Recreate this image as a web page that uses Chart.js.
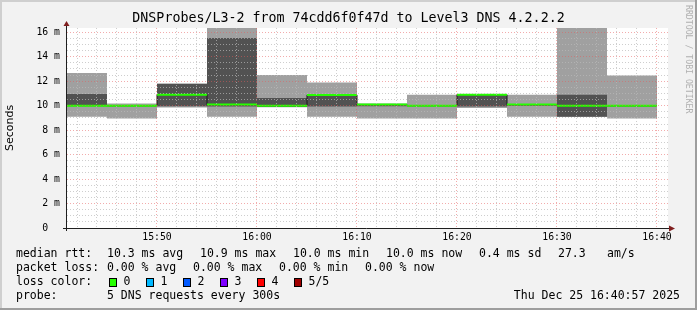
<!DOCTYPE html>
<html>
<head>
<meta charset="utf-8">
<script src="https://cdn.jsdelivr.net/npm/chart.js@4.4.1/dist/chart.umd.min.js"></script>
<style>
  html, body { margin: 0; padding: 0; background: #f2f2f2; }
  canvas { display: block; }
</style>
</head>
<body>
<canvas id="myChart" width="697" height="310"></canvas>
<script>
// 5 minute slots (last one ends at 16:40)
const slotStart = ["15:41", "15:45", "15:50", "15:55", "16:00", "16:05", "16:10", "16:15", "16:20", "16:25", "16:30", "16:35"];
const slotEnd = "16:40";

// values in ms
const rttMax = [12.68, 10.17, 11.8, 16.4, 12.5, 11.9, 10.17, 10.9, 10.93, 10.9, 16.4, 12.46];
const smokeHi = [10.95, 10.05, 11.8, 15.53, 10.63, 10.88, 10.12, 10.02, 10.93, 10.12, 10.9, 10.05];
const rttMedian = [10.0, 10.0, 10.9, 10.09, 10.0, 10.88, 10.09, 10.0, 10.9, 10.09, 10.0, 10.0];
const smokeLo = [9.97, 9.95, 9.96, 9.93, 9.9, 9.93, 9.96, 9.95, 9.93, 10.0, 9.1, 9.93];
const rttMin = [9.1, 8.95, 9.85, 9.1, 9.88, 9.1, 8.95, 8.95, 9.8, 9.1, 9.1, 8.95];

const yLabelValues = [0, 2, 4, 6, 8, 10, 12, 14, 16];
const yLabels = ["0  ", "2 m", "4 m", "6 m", "8 m", "10 m", "12 m", "14 m", "16 m"];
const xTickLabels = ["15:50", "16:00", "16:10", "16:20", "16:30", "16:40"];

const medianStats = ["10.3 ms avg", "10.9 ms max", "10.0 ms min", "10.0 ms now", "0.4 ms sd", "27.3", "am/s"];
const lossStats = ["0.00 % avg", "0.00 % max", "0.00 % min", "0.00 % now"];
const lossLabels = ["0", "1", "2", "3", "4", "5/5"];
const lossColors = ["#26ff00", "#00b8ff", "#0059ff", "#7e00ff", "#ff0000", "#a00000"];

const toMin = (s) => {
  const [h, m] = s.split(":").map(Number);
  return h * 60 + m;
};
const xLabelMinutes = xTickLabels.map(toMin);

const stepPoints = (vals) => {
  const pts = slotStart.map((s, i) => ({ x: toMin(s), y: vals[i] }));
  pts.push({ x: toMin(slotEnd), y: vals[vals.length - 1] });
  return pts;
};

// green median: one flat piece per slot, broken between
const medianPieces = [];
slotStart.forEach((s, i) => {
  const end = i + 1 < slotStart.length ? slotStart[i + 1] : slotEnd;
  medianPieces.push({ x: toMin(s), y: rttMedian[i] });
  medianPieces.push({ x: toMin(end), y: rttMedian[i] });
  medianPieces.push({ x: toMin(end), y: null });
});

const MONO = "'DejaVu Sans Mono', monospace";

const frame = {
  id: "frame",
  beforeDraw(chart) {
    const { ctx, chartArea: a } = chart;
    ctx.save();
    ctx.fillStyle = "#f2f2f2";
    ctx.fillRect(0, 0, chart.width, chart.height);
    ctx.fillStyle = "#ffffff";
    ctx.fillRect(a.left, a.top, a.right - a.left, a.bottom - a.top);
    ctx.restore();
  },
  afterDraw(chart) {
    const { ctx, chartArea: a } = chart;
    ctx.save();
    // axes
    ctx.strokeStyle = "#1f1f1f";
    ctx.lineWidth = 1;
    ctx.beginPath();
    ctx.moveTo(a.left - 0.5, a.bottom + 3);
    ctx.lineTo(a.left - 0.5, a.top - 2);
    ctx.moveTo(a.left - 4, a.bottom + 0.5);
    ctx.lineTo(a.right + 2, a.bottom + 0.5);
    ctx.stroke();
    ctx.fillStyle = "#801f1f";
    ctx.beginPath();
    ctx.moveTo(a.left - 0.5, a.top - 7);
    ctx.lineTo(a.left - 3.5, a.top - 2);
    ctx.lineTo(a.left + 2.5, a.top - 2);
    ctx.closePath();
    ctx.fill();
    ctx.beginPath();
    ctx.moveTo(a.right + 7, a.bottom + 0.5);
    ctx.lineTo(a.right + 1, a.bottom - 2.5);
    ctx.lineTo(a.right + 1, a.bottom + 3.5);
    ctx.closePath();
    ctx.fill();

    // legend
    ctx.fillStyle = "#000";
    ctx.font = "11.5px " + MONO;
    ctx.textBaseline = "middle";
    ctx.textAlign = "left";
    const r1 = 254.5, r2 = 268.5, r3 = 282.5, r4 = 296.5;
    ctx.fillText("median rtt:", 16, r1);
    [107, 200, 293, 386, 479, 558, 607].forEach((x, i) => ctx.fillText(medianStats[i], x, r1));
    ctx.fillText("packet loss:", 16, r2);
    [107, 193, 279, 365].forEach((x, i) => ctx.fillText(lossStats[i], x, r2));
    ctx.fillText("loss color:", 16, r3);
    lossLabels.forEach((lab, i) => {
      const bx = 109 + i * 37;
      ctx.fillStyle = lossColors[i];
      ctx.fillRect(bx, 278, 8, 9);
      ctx.strokeStyle = "#000";
      ctx.strokeRect(bx + 0.5, 278.5, 7, 8);
      ctx.fillStyle = "#000";
      ctx.fillText(lab, bx + 14.5, r3);
    });
    ctx.fillText("probe:", 16, r4);
    ctx.fillText("5 DNS requests every 300s", 107, r4);
    ctx.textAlign = "right";
    ctx.fillText("Thu Dec 25 16:40:57 2025", 680, r4);

    // watermark
    ctx.save();
    ctx.translate(688, 5);
    ctx.rotate(Math.PI / 2);
    ctx.font = "8.2px " + MONO;
    ctx.fillStyle = "#b0b0b0";
    ctx.textAlign = "left";
    ctx.fillText("RRDTOOL / TOBI OETIKER", 0, 0);
    ctx.restore();

    // 3d border
    ctx.fillStyle = "#cfcfcf";
    ctx.fillRect(0, 0, chart.width, 2);
    ctx.fillRect(0, 0, 2, chart.height);
    ctx.fillStyle = "#9e9e9e";
    ctx.fillRect(0, chart.height - 2, chart.width, 2);
    ctx.fillRect(chart.width - 2, 0, 2, chart.height);
    ctx.restore();
  },
};

const minorGrid = "rgba(185,185,185,0.7)";
const majorGrid = "rgba(230,90,90,0.5)";

const ctx = document.getElementById("myChart").getContext("2d");
new Chart(ctx, {
  type: "line",
  data: {
    datasets: [
      {
        label: "smoke max",
        data: stepPoints(rttMax),
        stepped: true,
        borderWidth: 0,
        pointRadius: 0,
        fill: "+1",
        backgroundColor: "#a0a0a0",
        order: 5,
      },
      {
        label: "smoke min",
        data: stepPoints(rttMin),
        stepped: true,
        borderWidth: 0,
        pointRadius: 0,
        fill: false,
        order: 5,
      },
      {
        label: "smoke hi",
        data: stepPoints(smokeHi),
        stepped: true,
        borderWidth: 0,
        pointRadius: 0,
        fill: "+1",
        backgroundColor: "#525252",
        order: 4,
      },
      {
        label: "smoke lo",
        data: stepPoints(smokeLo),
        stepped: true,
        borderWidth: 0,
        pointRadius: 0,
        fill: false,
        order: 4,
      },
      {
        label: "median steps",
        data: stepPoints(rttMedian),
        stepped: true,
        borderColor: "#1a1a1a",
        borderWidth: 1,
        pointRadius: 0,
        fill: false,
        order: 3,
      },
      {
        label: "median",
        data: medianPieces,
        borderColor: "#26ff00",
        borderWidth: 2,
        pointRadius: 0,
        spanGaps: false,
        fill: false,
        order: 2,
      },
    ],
  },
  options: {
    responsive: false,
    animation: false,
    devicePixelRatio: 1,
    layout: { padding: 0 },
    plugins: {
      legend: { display: false },
      tooltip: { enabled: false },
      title: {
        display: true,
        text: "DNSProbes/L3-2 from 74cdd6f0f47d to Level3 DNS 4.2.2.2",
        color: "#000",
        font: { family: MONO, size: 13.3, weight: "normal", lineHeight: "16px" },
        padding: { top: 11, bottom: 1 },
      },
    },
    scales: {
      x: {
        type: "linear",
        min: toMin("15:41"),
        max: toMin("16:41") + 0.1,
        afterFit: (scale) => { scale.height = 82; },
        afterBuildTicks: (scale) => {
          const t = [];
          for (let v = 42; v <= 100; v += 2) t.push({ value: toMin("15:00") + v });
          scale.ticks = t;
        },
        ticks: {
          autoSkip: false,
          maxRotation: 0,
          padding: 4,
          color: "#000",
          font: { family: MONO, size: 9.8 },
          callback: (v) => {
            const i = xLabelMinutes.indexOf(v);
            return i >= 0 ? xTickLabels[i] : "";
          },
        },
        grid: {
          z: 1,
          drawTicks: false,
          lineWidth: 1,
          color: (c) => (c.tick && xLabelMinutes.includes(c.tick.value) ? majorGrid : minorGrid),
        },
        border: { display: false, dash: [1, 2] },
      },
      y: {
        type: "linear",
        min: 0,
        max: 16.35,
        afterFit: (scale) => { scale.width = 67; },
        afterBuildTicks: (scale) => {
          const t = [];
          for (let v = 0; v <= 16; v += 0.5) t.push({ value: v });
          scale.ticks = t;
        },
        ticks: {
          autoSkip: false,
          padding: 7,
          color: "#000",
          font: { family: MONO, size: 9.8 },
          callback: (v) => {
            const i = yLabelValues.indexOf(v);
            return i >= 0 ? yLabels[i] : "";
          },
        },
        title: {
          display: true,
          text: "Seconds",
          color: "#000",
          font: { family: "'DejaVu Sans', sans-serif", size: 11 },
          padding: { top: 4, bottom: 0 },
        },
        grid: {
          z: 1,
          drawTicks: false,
          lineWidth: 1,
          color: (c) => (c.tick && yLabelValues.includes(c.tick.value) ? majorGrid : minorGrid),
        },
        border: { display: false, dash: [1, 2] },
      },
      // empty strip on the right, keeps the title centred on the whole image
      spacer: {
        type: "linear",
        position: "right",
        afterFit: (scale) => { scale.width = 29; },
        ticks: { display: false },
        grid: { display: false },
        border: { display: false },
      },
    },
  },
  plugins: [frame],
});
</script>
</body>
</html>
